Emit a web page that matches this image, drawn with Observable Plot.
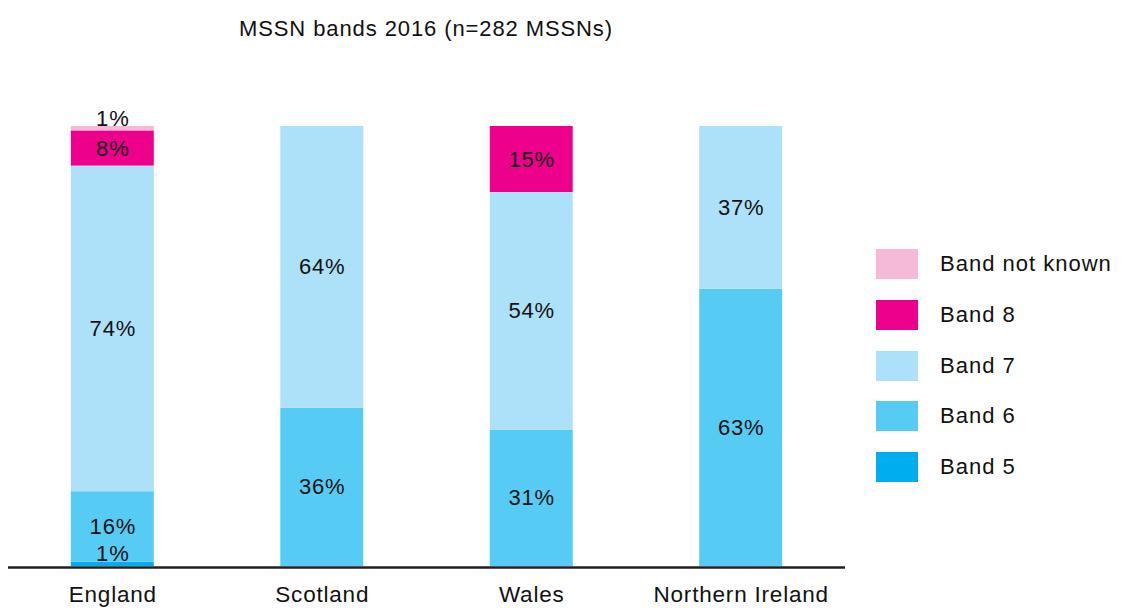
<!DOCTYPE html>
<html>
<head>
<meta charset="utf-8">
<script src="https://cdn.jsdelivr.net/npm/d3@7"></script>
<script src="https://cdn.jsdelivr.net/npm/@observablehq/plot@0.6"></script>
<style>
  html, body { margin: 0; padding: 0; background: #ffffff; }
  body { font-family: "Liberation Sans", Arial, Helvetica, sans-serif; color: #111111; }
  #wrap { position: relative; width: 1123px; height: 608px; overflow: hidden; }
  #title { position: absolute; left: 0; top: 18px; width: 852px; text-align: center;
           font-size: 22px; line-height: 22px; letter-spacing: 0.9px; }
  #chart { position: absolute; left: 0; top: 0; }
  #chart svg text { letter-spacing: 0.8px; }
  #legend { position: absolute; left: 876px; top: 249px; }
  .row { display: flex; align-items: center; height: 30px; margin-bottom: 20.75px; }
  .sw { width: 42px; height: 30px; flex: none; }
  .lab { margin-left: 22px; font-size: 22px; letter-spacing: 1px; white-space: nowrap; }
</style>
</head>
<body>
<div id="wrap">
  <div id="title">MSSN bands 2016 (n=282 MSSNs)</div>
  <div id="chart"></div>
  <div id="legend"></div>
</div>
<script>
// ---- data ----
const countries = ["England", "Scotland", "Wales", "Northern Ireland"];
const bands = ["Band 5", "Band 6", "Band 7", "Band 8", "Band not known"];
const band5 = [1, 0, 0, 0];
const band6 = [16, 36, 31, 63];
const band7 = [74, 64, 54, 37];
const band8 = [8, 0, 15, 0];
const bandNotKnown = [1, 0, 0, 0];
const bandColors = ["#00aeef", "#56ccf5", "#ade1fa", "#ec008c", "#f5bbd6"];
const legendOrder = ["Band not known", "Band 8", "Band 7", "Band 6", "Band 5"];

// ---- table ----
const series = [band5, band6, band7, band8, bandNotKnown];
const rows = [];
series.forEach((vals, bi) => {
  vals.forEach((v, ci) => {
    if (v > 0) rows.push({country: countries[ci], band: bands[bi], value: v});
  });
});

const stackOpts = {x: "country", y: "value", z: "band", order: bands};

const chart = Plot.plot({
  width: 860,
  height: 608,
  marginTop: 126,
  marginBottom: 42,
  marginLeft: 8,
  marginRight: 15,
  style: {fontFamily: "'Liberation Sans', Arial, Helvetica, sans-serif", background: "transparent"},
  x: {domain: countries, paddingInner: 0.604, paddingOuter: 0.3, round: false, label: null},
  y: {domain: [0, 100], axis: null},
  color: {domain: bands, range: bandColors},
  marks: [
    Plot.barY(rows, Plot.stackY({...stackOpts, fill: "band"})),
    Plot.text(rows, Plot.stackY({...stackOpts,
      text: d => d.value >= 5 ? d.value + "%" : null,
      fill: "#111111", fontSize: 22})),
    Plot.text(rows, Plot.stackY({...stackOpts,
      text: d => d.value < 5 ? d.value + "%" : null,
      fill: "#111111", fontSize: 22, dy: -10})),
    Plot.ruleY([0], {stroke: "#231f20", strokeWidth: 2.5, dy: 1}),
    Plot.axisX({tickSize: 0, tickPadding: 20, fontSize: 22.5, fill: "#111111", label: null})
  ]
});
document.getElementById("chart").appendChild(chart);

// ---- legend ----
const legend = document.getElementById("legend");
legendOrder.forEach(b => {
  const row = document.createElement("div");
  row.className = "row";
  const sw = document.createElement("div");
  sw.className = "sw";
  sw.style.background = bandColors[bands.indexOf(b)];
  const lab = document.createElement("div");
  lab.className = "lab";
  lab.textContent = b;
  row.appendChild(sw);
  row.appendChild(lab);
  legend.appendChild(row);
});
</script>
</body>
</html>
